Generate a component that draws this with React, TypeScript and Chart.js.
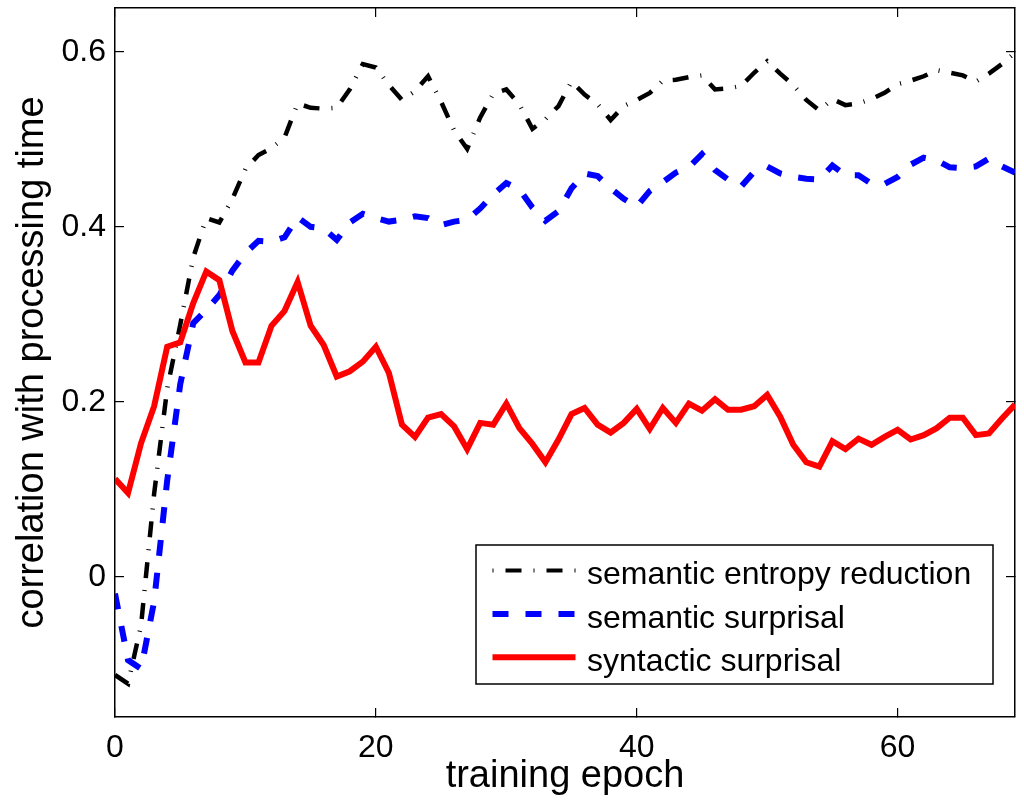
import React, { useEffect, useRef } from 'react'
import { Chart, registerables } from 'chart.js'

Chart.register(...registerables)

// epochs 0..69
const epochs = Array.from({ length: 70 }, (_, i) => i)

const entropyReduction = [
  -0.112, -0.122, -0.055, 0.095, 0.215, 0.288, 0.365, 0.41, 0.405, 0.432,
  0.466, 0.482, 0.49, 0.502, 0.541, 0.536, 0.535, 0.536, 0.557, 0.586,
  0.582, 0.562, 0.545, 0.555, 0.572, 0.543, 0.51, 0.489, 0.525, 0.552,
  0.557, 0.54, 0.512, 0.523, 0.538, 0.566, 0.551, 0.54, 0.522, 0.538,
  0.545, 0.553, 0.567, 0.568, 0.571, 0.573, 0.557, 0.558, 0.561, 0.576,
  0.589, 0.575, 0.562, 0.545, 0.533, 0.546, 0.539, 0.541, 0.546, 0.553,
  0.563, 0.567, 0.572, 0.579, 0.576, 0.573, 0.566, 0.575, 0.586, 0.599,
]

const semanticSurprisal = [
  -0.019, -0.095, -0.105, -0.028, 0.11, 0.22, 0.29, 0.305, 0.322, 0.35,
  0.37, 0.384, 0.383, 0.388, 0.411, 0.4, 0.398, 0.385, 0.405, 0.415,
  0.41, 0.406, 0.408, 0.412, 0.41, 0.402, 0.406, 0.408, 0.421, 0.437,
  0.45, 0.443, 0.422, 0.407, 0.418, 0.444, 0.461, 0.458, 0.444, 0.432,
  0.423, 0.441, 0.451, 0.462, 0.468, 0.483, 0.465, 0.454, 0.446, 0.463,
  0.469, 0.461, 0.457, 0.455, 0.454, 0.47, 0.459, 0.459, 0.449, 0.449,
  0.457, 0.471, 0.479, 0.476, 0.468, 0.467, 0.469, 0.478, 0.469, 0.462,
]

const syntacticSurprisal = [
  0.112, 0.096, 0.153, 0.195, 0.263, 0.268, 0.313, 0.349, 0.339, 0.281,
  0.245, 0.245, 0.287, 0.304, 0.337, 0.287, 0.265, 0.229, 0.235, 0.246,
  0.263, 0.233, 0.174, 0.16, 0.182, 0.186, 0.172, 0.146, 0.176, 0.174,
  0.198, 0.17, 0.152, 0.131, 0.157, 0.186, 0.193, 0.174, 0.165, 0.176,
  0.192, 0.169, 0.193, 0.176, 0.198, 0.19, 0.203, 0.191, 0.191, 0.195,
  0.208, 0.183, 0.151, 0.131, 0.126, 0.155, 0.146, 0.158, 0.151, 0.16,
  0.168, 0.157, 0.162, 0.17, 0.182, 0.182, 0.162, 0.164, 0.181, 0.197,
]

const seriesLabels = ['semantic entropy reduction', 'semantic surprisal', 'syntactic surprisal']
const xTicks = [0, 20, 40, 60]
const yTicks = [0, 0.2, 0.4, 0.6]

const FAMILY = "'Liberation Sans', Arial, Helvetica, sans-serif"

const toPoints = (ys: number[]) => epochs.map((x, i) => ({ x, y: ys[i] }))

// fixed axis box sizes, no label overhang padding
const fixSize = (size: { width?: number; height?: number }) => (s: any) => {
  if (size.width !== undefined) s.width = size.width
  if (size.height !== undefined) s.height = size.height
  s.paddingTop = 0
  s.paddingBottom = 0
  s.paddingLeft = 0
  s.paddingRight = 0
}

// legend drawn inside the plot, matlab style
const insetLegend = {
  id: 'insetLegend',
  afterDraw(chart: Chart) {
    const { ctx, chartArea } = chart
    const w = 517
    const h = 139
    const left = chartArea.right - 22 - w
    const top = chartArea.bottom - 33 - h
    ctx.save()
    ctx.fillStyle = '#fff'
    ctx.fillRect(left, top, w, h)
    ctx.strokeStyle = '#000'
    ctx.lineWidth = 1.5
    ctx.strokeRect(left, top, w, h)
    ctx.font = `32px ${FAMILY}`
    ctx.textBaseline = 'alphabetic'
    chart.data.datasets.forEach((ds: any, i) => {
      const y = top + 25.5 + i * 43.4
      ctx.beginPath()
      ctx.strokeStyle = ds.borderColor
      ctx.lineWidth = ds.legendWidth || ds.borderWidth
      ctx.setLineDash(ds.legendDash || [])
      ctx.lineCap = 'butt'
      ctx.moveTo(left + 16.5, y)
      ctx.lineTo(left + 99.5, y)
      ctx.stroke()
      ctx.setLineDash([])
      ctx.fillStyle = '#000'
      ctx.fillText(ds.label, left + 111, y + 13.7)
    })
    ctx.restore()
  },
}

const App: React.FC = () => {
  const ref = useRef<HTMLCanvasElement | null>(null)

  useEffect(() => {
    document.body.style.margin = '0'
    document.body.style.overflow = 'hidden'
    if (!ref.current) return

    const tickFont = { family: FAMILY, size: 32 }
    const titleFont = { family: FAMILY, size: 38 }
    const grid = {
      drawOnChartArea: false,
      drawTicks: true,
      tickLength: -9,
      color: '#000',
      lineWidth: 1.2,
    }
    const border = { display: true, color: '#000', width: 1.5 }

    const chart = new Chart(ref.current, {
      type: 'line',
      data: {
        datasets: [
          {
            label: seriesLabels[0],
            data: toPoints(entropyReduction),
            borderColor: '#000000',
            borderWidth: 4.5,
            borderDash: [16, 12, 1, 12],
            legendDash: [1, 12, 16, 12],
            legendWidth: 4,
            order: 2,
          } as any,
          {
            label: seriesLabels[1],
            data: toPoints(semanticSurprisal),
            borderColor: '#0000ff',
            borderWidth: 6,
            borderDash: [16, 17],
            legendDash: [16, 17],
            order: 1,
          },
          {
            label: seriesLabels[2],
            data: toPoints(syntacticSurprisal),
            borderColor: '#ff0000',
            borderWidth: 6,
            order: 0,
          },
        ],
      },
      options: {
        animation: false,
        responsive: false,
        layout: { padding: 0 },
        elements: { point: { radius: 0 }, line: { tension: 0 } },
        plugins: { legend: { display: false }, tooltip: { enabled: false } },
        scales: {
          x: {
            type: 'linear',
            position: 'bottom',
            min: 0,
            max: 69,
            afterBuildTicks: (s: any) => { s.ticks = xTicks.map((value) => ({ value })) },
            afterFit: fixSize({ height: 92 }),
            grid,
            border,
            ticks: { font: tickFont, color: '#000', padding: 21, maxRotation: 0, autoSkip: false, callback: (v: any) => String(v) },
            title: { display: true, text: 'training epoch', font: titleFont, color: '#000', padding: { top: 0, bottom: 10 } },
          },
          y: {
            type: 'linear',
            position: 'left',
            min: -0.16,
            max: 0.65,
            afterBuildTicks: (s: any) => { s.ticks = yTicks.map((value) => ({ value })) },
            afterFit: fixSize({ width: 115 }),
            grid,
            border,
            ticks: { font: tickFont, color: '#000', padding: 18, autoSkip: false, callback: (v: any) => String(v) },
            title: { display: true, text: 'correlation with processing time', font: titleFont, color: '#000', padding: { top: 10, bottom: 0 } },
          },
          x2: {
            type: 'linear',
            axis: 'x',
            position: 'top',
            min: 0,
            max: 69,
            afterBuildTicks: (s: any) => { s.ticks = xTicks.map((value) => ({ value })) },
            afterFit: fixSize({ height: 8 }),
            grid,
            border,
            ticks: { display: false },
          },
          y2: {
            type: 'linear',
            axis: 'y',
            position: 'right',
            min: -0.16,
            max: 0.65,
            afterBuildTicks: (s: any) => { s.ticks = yTicks.map((value) => ({ value })) },
            afterFit: fixSize({ width: 9 }),
            grid,
            border,
            ticks: { display: false },
          },
        } as any,
      },
      plugins: [insetLegend as any],
    })
    return () => chart.destroy()
  }, [])

  return (
    <div style={{ width: 1024, height: 809, background: '#fff' }}>
      <canvas ref={ref} width={1024} height={809} />
    </div>
  )
}

export default App
